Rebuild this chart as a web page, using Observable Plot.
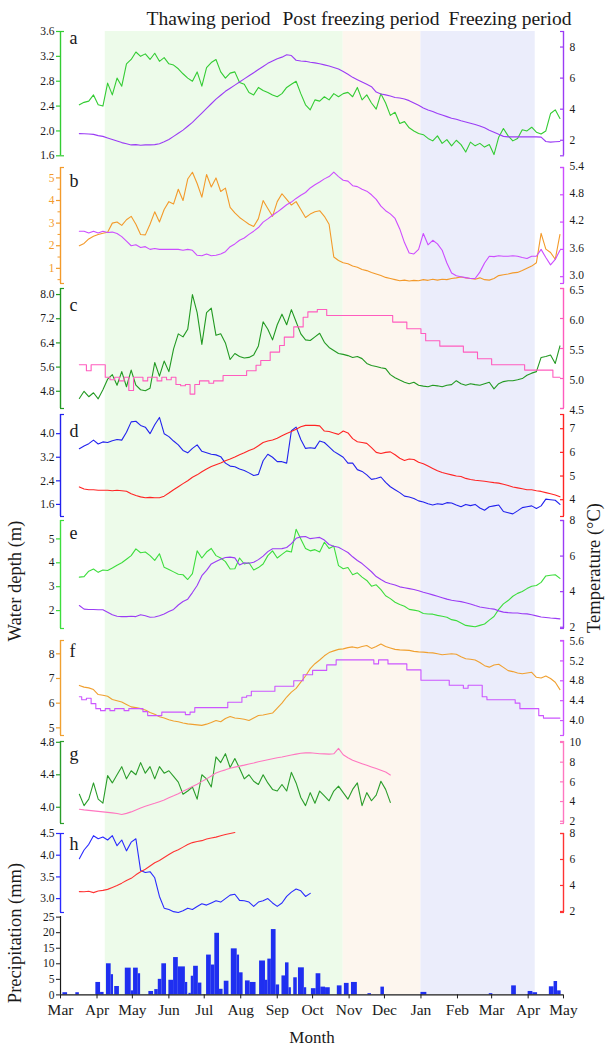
<!DOCTYPE html>
<html>
<head>
<meta charset="utf-8">
<script src="https://cdn.jsdelivr.net/npm/d3@7"></script>
<script src="https://cdn.jsdelivr.net/npm/@observablehq/plot@0.6"></script>
<style>
  body { margin: 0; background: #fff; }
  #fig { position: relative; width: 605px; height: 1048px; overflow: hidden;
         font-family: "Liberation Serif", "Times New Roman", serif; color: #1a1a1a; }
  #fig svg { position: absolute; left: 0; }
  .period { position: absolute; top: 8.5px; font-size: 19.5px; line-height: 1; white-space: nowrap; transform: translateX(-50%); }
  .ylab { position: absolute; font-size: 18.5px; line-height: 1; white-space: nowrap; transform: translate(-50%, -50%) rotate(-90deg); }
</style>
</head>
<body>
<div id="fig">
  <div class="period" style="left:208.5px">Thawing period</div>
  <div class="period" style="left:361px">Post freezing period</div>
  <div class="period" style="left:510px">Freezing period</div>
  <div class="ylab" style="left:15px; top:581px">Water depth (m)</div>
  <div class="ylab" style="left:594px; top:568px">Temperature (°C)</div>
  <div class="ylab" style="left:15px; top:933px">Precipitation (mm)</div>
</div>
<script>
// ---------- data ----------
// daily records sampled every 4 days from 17 March 2015
const seriesStart = "2015-03-17";
const stepDays = 4;

const aDepth = [2.42,2.46,2.48,2.58,2.42,2.40,2.77,2.58,2.85,2.72,
  3.08,3.15,3.27,3.20,3.24,3.15,3.25,3.12,3.18,3.08,
  3.06,3.00,2.92,2.85,2.80,2.95,2.72,3.02,3.10,3.15,
  2.95,2.85,2.93,2.95,2.78,2.75,2.62,2.58,2.70,2.65,
  2.62,2.58,2.55,2.60,2.70,2.75,2.80,2.60,2.42,2.34,
  2.50,2.48,2.55,2.50,2.60,2.55,2.60,2.62,2.55,2.70,
  2.50,2.58,2.45,2.35,2.60,2.45,2.25,2.30,2.12,2.15,
  2.05,2.00,1.96,1.94,1.88,1.84,1.92,1.80,1.86,1.76,
  1.85,1.78,1.66,1.82,1.76,1.80,1.74,1.78,1.62,1.90,
  2.04,1.92,1.84,1.88,2.02,2.00,2.06,1.98,1.95,2.00,
  2.28,2.34,2.20];
const aTemp = [2.43,2.42,2.40,2.38,2.30,2.25,2.15,2.05,1.95,1.85,
  1.78,1.70,1.72,1.68,1.70,1.70,1.72,1.78,1.90,2.05,
  2.25,2.45,2.65,2.90,3.15,3.45,3.75,4.05,4.35,4.65,
  4.90,5.15,5.35,5.55,5.75,5.95,6.15,6.35,6.55,6.75,
  6.95,7.10,7.25,7.35,7.50,7.45,7.15,7.10,7.08,7.02,
  6.98,6.92,6.85,6.78,6.68,6.58,6.42,6.25,6.05,5.90,
  5.75,5.60,5.45,5.10,4.98,4.92,4.85,4.75,4.72,4.66,
  4.55,4.40,4.25,4.08,3.95,3.85,3.72,3.62,3.52,3.42,
  3.35,3.25,3.18,3.10,3.02,2.92,2.80,2.65,2.52,2.38,
  2.25,2.22,2.22,2.22,2.22,2.22,2.22,2.22,2.20,1.92,
  1.88,1.90,1.92];

const bDepth = [2.00,2.10,2.30,2.42,2.50,2.55,2.60,3.00,3.05,2.90,
  3.15,3.30,2.95,2.50,2.48,2.95,3.50,3.05,3.60,3.95,
  3.85,4.50,4.00,4.95,5.25,4.75,4.15,5.15,4.60,5.00,
  4.40,4.55,3.70,3.45,3.25,3.10,2.95,2.85,3.20,4.00,
  3.65,3.30,3.95,4.30,4.05,3.80,3.95,3.60,3.25,3.40,
  3.50,3.55,3.30,2.95,1.50,1.35,1.25,1.20,1.10,1.05,
  0.95,0.90,0.82,0.75,0.68,0.60,0.55,0.50,0.45,0.48,
  0.44,0.47,0.45,0.50,0.47,0.52,0.48,0.52,0.50,0.55,
  0.58,0.62,0.58,0.55,0.52,0.58,0.50,0.48,0.55,0.68,
  0.72,0.75,0.80,0.82,0.90,1.00,1.10,1.25,2.55,1.85,
  1.70,1.40,2.50];
const bTemp = [4.00,4.00,3.96,4.00,3.96,4.00,3.97,3.98,3.95,3.88,
  3.78,3.68,3.70,3.64,3.66,3.60,3.62,3.60,3.60,3.60,
  3.60,3.60,3.58,3.60,3.58,3.47,3.46,3.50,3.46,3.47,
  3.50,3.55,3.66,3.72,3.80,3.85,3.93,4.00,4.08,4.20,
  4.27,4.35,4.42,4.50,4.58,4.64,4.72,4.79,4.85,4.95,
  5.02,5.08,5.15,5.20,5.30,5.20,5.12,5.10,5.00,4.98,
  4.92,4.88,4.80,4.70,4.55,4.45,4.38,4.28,4.05,3.75,
  3.52,3.50,3.60,3.95,3.70,3.80,3.72,3.58,3.30,3.08,
  3.02,3.00,2.98,2.96,2.96,3.10,3.30,3.45,3.44,3.46,
  3.45,3.45,3.46,3.45,3.42,3.40,3.45,3.45,3.60,3.42,
  3.26,3.38,3.58];

const cDepth = [4.56,4.80,4.62,4.75,4.55,4.85,5.20,5.35,5.00,5.45,
  4.95,5.50,5.00,4.85,4.82,4.90,5.75,5.30,5.80,5.45,
  6.20,6.70,6.60,6.85,8.00,7.40,6.35,7.40,7.55,6.65,
  6.70,6.40,5.85,6.05,5.95,5.90,5.92,6.00,6.30,7.10,
  6.85,6.50,7.00,7.35,7.00,7.50,7.10,6.70,6.50,6.48,
  6.60,6.72,6.42,6.25,6.15,6.05,6.02,5.98,5.92,5.95,
  5.88,5.72,5.65,5.62,5.58,5.55,5.35,5.25,5.17,5.10,
  5.05,5.10,5.00,4.97,4.95,5.00,4.98,4.95,5.00,5.02,
  5.15,5.05,5.00,5.05,5.02,5.00,5.05,5.10,4.88,5.05,
  5.12,5.15,5.15,5.18,5.22,5.33,5.40,5.45,5.92,5.95,
  6.00,5.72,6.30];
const cTemp = [5.23,5.23,5.13,5.23,5.23,5.23,5.02,4.98,5.02,4.96,
  5.02,4.80,5.02,5.02,4.96,5.02,5.02,4.96,5.02,4.98,
  5.02,4.90,4.88,4.90,4.74,4.90,4.96,4.96,4.92,4.96,
  4.96,5.05,5.05,5.05,5.05,5.05,5.13,5.13,5.22,5.30,
  5.30,5.44,5.44,5.55,5.69,5.69,5.86,5.86,6.02,6.11,
  6.11,6.15,6.15,6.05,6.05,6.05,6.05,6.05,6.05,6.05,
  6.05,6.05,6.05,6.05,6.05,6.05,6.05,5.94,5.94,5.94,
  5.83,5.83,5.83,5.75,5.63,5.63,5.63,5.54,5.54,5.54,
  5.54,5.54,5.44,5.44,5.44,5.33,5.33,5.33,5.23,5.23,
  5.23,5.23,5.23,5.23,5.23,5.14,5.14,5.14,5.14,5.14,
  5.14,5.02,5.02];

const dDepth = [3.49,3.58,3.66,3.78,3.65,3.72,3.70,3.76,3.80,3.78,
  4.05,4.40,4.42,4.28,4.22,4.00,4.30,4.55,4.00,3.90,
  3.75,3.62,3.43,3.35,3.50,3.62,3.40,3.35,3.30,3.28,
  3.22,3.00,2.90,2.88,2.80,2.75,2.67,2.58,2.62,3.08,
  3.30,3.20,3.05,3.05,3.00,4.10,4.22,3.80,3.50,3.52,
  3.50,3.75,3.70,3.55,3.40,3.30,3.20,3.00,3.00,2.78,
  2.72,2.60,2.45,2.48,2.53,2.35,2.20,2.10,2.00,1.88,
  1.85,1.80,1.72,1.68,1.62,1.58,1.62,1.60,1.66,1.65,
  1.58,1.52,1.60,1.56,1.60,1.48,1.40,1.52,1.55,1.58,
  1.36,1.32,1.28,1.38,1.49,1.52,1.55,1.46,1.55,1.78,
  1.76,1.74,1.60];
const dTemp = [4.54,4.45,4.42,4.42,4.40,4.40,4.40,4.38,4.40,4.38,
  4.36,4.25,4.18,4.12,4.08,4.10,4.08,4.08,4.15,4.28,
  4.42,4.55,4.68,4.80,4.95,5.05,5.18,5.30,5.40,5.48,
  5.55,5.65,5.72,5.80,5.90,5.98,6.08,6.15,6.28,6.42,
  6.48,6.52,6.60,6.70,6.80,6.88,6.98,7.08,7.14,7.14,
  7.14,7.12,6.90,6.88,6.82,6.76,6.90,6.82,6.58,6.45,
  6.42,6.38,6.20,6.00,5.95,6.00,6.02,5.90,5.75,5.66,
  5.72,5.70,5.58,5.52,5.42,5.32,5.22,5.15,5.10,5.05,
  5.00,4.98,4.90,4.85,4.82,4.80,4.78,4.75,4.72,4.70,
  4.65,4.60,4.54,4.50,4.46,4.42,4.42,4.38,4.35,4.30,
  4.25,4.20,4.12];

const eDepth = [3.40,3.42,3.65,3.74,3.60,3.70,3.68,3.78,3.90,4.00,
  4.15,4.30,4.58,4.42,4.45,4.30,4.10,4.38,3.81,3.72,
  3.62,3.52,3.50,3.30,3.55,4.50,4.20,4.45,4.60,4.30,
  4.20,4.05,3.74,3.75,4.20,3.95,4.00,3.70,3.80,3.95,
  4.30,4.50,4.20,4.35,4.50,4.45,5.40,5.00,4.60,4.50,
  4.55,4.45,4.86,4.60,4.70,3.88,3.75,3.80,3.50,3.58,
  3.40,3.26,3.02,3.08,2.88,2.62,2.50,2.35,2.25,2.18,
  2.05,2.02,1.98,1.88,1.86,1.85,1.80,1.76,1.72,1.62,
  1.58,1.48,1.38,1.35,1.32,1.38,1.44,1.60,1.75,2.05,
  2.28,2.42,2.60,2.72,2.80,2.92,3.02,3.05,3.18,3.45,
  3.48,3.50,3.35];
const eTemp = [3.22,3.02,3.00,3.00,2.98,2.98,2.84,2.70,2.62,2.60,
  2.60,2.62,2.60,2.70,2.65,2.56,2.58,2.65,2.75,2.88,
  3.00,3.25,3.45,3.58,3.95,4.35,4.90,5.20,5.56,5.70,
  5.82,5.92,5.94,5.90,5.50,5.62,5.60,5.65,5.80,6.00,
  6.25,6.41,6.41,6.42,6.48,6.70,7.00,7.08,7.10,6.98,
  7.02,7.05,6.90,6.65,6.55,6.50,6.35,6.20,5.96,5.75,
  5.58,5.35,5.12,4.85,4.68,4.53,4.45,4.38,4.27,4.22,
  4.17,4.12,4.05,3.97,3.90,3.82,3.74,3.66,3.58,3.52,
  3.48,3.44,3.38,3.31,3.22,3.14,3.10,3.05,3.02,2.92,
  2.85,2.82,2.80,2.80,2.76,2.75,2.70,2.64,2.58,2.55,
  2.52,2.50,2.47];

const fDepth = [6.72,6.65,6.62,6.55,6.35,6.32,6.28,6.15,6.10,6.05,
  5.95,5.85,5.82,5.78,5.72,5.62,5.55,5.45,5.40,5.33,
  5.28,5.25,5.20,5.16,5.14,5.12,5.10,5.15,5.22,5.30,
  5.25,5.38,5.46,5.40,5.38,5.35,5.30,5.40,5.50,5.52,
  5.56,5.60,5.80,6.00,6.25,6.45,6.60,6.85,7.10,7.40,
  7.60,7.75,7.92,8.05,8.12,8.18,8.20,8.25,8.28,8.24,
  8.30,8.34,8.22,8.30,8.40,8.30,8.24,8.18,8.16,8.15,
  8.14,8.10,8.08,8.07,8.05,8.04,8.00,7.96,7.98,8.00,
  7.98,7.88,7.80,7.78,7.75,7.65,7.52,7.46,7.55,7.58,
  7.45,7.32,7.28,7.22,7.19,7.22,7.25,7.05,7.02,7.10,
  7.00,6.85,6.55];
const fTemp = [4.48,4.42,4.45,4.34,4.24,4.20,4.24,4.20,4.24,4.24,
  4.20,4.24,4.24,4.24,4.18,4.10,4.10,4.10,4.17,4.17,
  4.17,4.17,4.17,4.12,4.17,4.26,4.26,4.26,4.26,4.26,
  4.26,4.26,4.37,4.37,4.37,4.47,4.50,4.59,4.59,4.59,
  4.59,4.59,4.69,4.69,4.69,4.69,4.80,4.80,4.92,4.92,
  5.01,5.01,5.01,5.12,5.12,5.22,5.22,5.22,5.22,5.22,
  5.22,5.22,5.22,5.14,5.22,5.22,5.14,5.14,5.14,5.14,
  5.02,5.02,5.02,4.81,4.81,4.81,4.81,4.81,4.81,4.71,
  4.71,4.71,4.65,4.71,4.71,4.71,4.48,4.42,4.42,4.42,
  4.42,4.42,4.42,4.35,4.24,4.24,4.24,4.24,4.10,4.05,
  4.05,4.05,4.05];

const gDepth = [4.16,4.02,4.10,4.30,4.10,4.05,4.39,4.30,4.40,4.50,
  4.35,4.45,4.40,4.55,4.42,4.50,4.35,4.50,4.42,4.45,
  4.38,4.31,4.16,4.20,4.25,4.10,4.40,4.35,4.25,4.62,
  4.55,4.66,4.49,4.60,4.48,4.35,4.40,4.32,4.28,4.40,
  4.30,4.22,4.20,4.28,4.20,4.43,4.30,4.12,4.02,4.18,
  4.05,4.20,4.14,4.08,4.20,4.26,4.18,4.10,4.22,4.30,
  4.02,4.18,4.08,4.15,4.32,4.22,4.06];
const gTemp = [3.22,3.15,3.10,3.05,3.00,2.95,2.90,2.85,2.78,2.68,
  2.80,2.95,3.15,3.35,3.52,3.68,3.82,3.98,4.15,4.38,
  4.58,4.80,5.05,5.28,5.52,5.75,6.05,6.30,6.60,6.90,
  7.08,7.22,7.38,7.50,7.60,7.70,7.82,7.92,8.05,8.15,
  8.25,8.35,8.45,8.52,8.62,8.72,8.82,8.90,8.94,8.95,
  8.90,8.85,8.84,8.82,8.85,9.40,8.75,8.45,8.20,8.02,
  7.85,7.68,7.52,7.35,7.18,7.00,6.70];

const hDepth = [3.92,4.12,4.25,4.45,4.38,4.42,4.35,4.45,4.22,4.35,
  4.10,4.30,4.38,3.65,3.60,3.62,3.48,3.05,2.78,2.75,
  2.70,2.68,2.72,2.78,2.75,2.82,2.88,2.85,2.90,2.95,
  2.92,3.00,3.08,3.10,2.96,2.95,2.92,2.82,2.92,2.95,
  3.00,2.90,2.82,2.90,3.05,3.15,3.22,3.18,3.05,3.12];
const hTemp = [3.53,3.52,3.55,3.45,3.58,3.62,3.70,3.85,4.00,4.18,
  4.38,4.55,4.82,5.05,5.25,5.50,5.75,5.92,6.15,6.38,
  6.60,6.75,6.95,7.15,7.30,7.38,7.45,7.58,7.65,7.72,
  7.82,7.92,8.00,8.08];

// rain events: first day, number of days, daily amount (mm)
const rainStart = ["2015-03-03","2015-03-14","2015-03-31","2015-04-04","2015-04-09","2015-04-13","2015-04-16",
  "2015-04-25","2015-04-30","2015-05-02","2015-05-06","2015-05-15","2015-05-20","2015-05-23","2015-05-26",
  "2015-06-01","2015-06-05","2015-06-09","2015-06-15","2015-06-18","2015-06-20","2015-06-22","2015-06-26",
  "2015-07-03","2015-07-07","2015-07-10","2015-07-14","2015-07-18","2015-07-24","2015-07-29","2015-07-31",
  "2015-08-05","2015-08-09","2015-08-17","2015-08-22","2015-08-24","2015-08-27","2015-08-31",
  "2015-09-05","2015-09-08","2015-09-11","2015-09-15","2015-09-19","2015-09-24","2015-09-30",
  "2015-10-04","2015-10-08","2015-10-12","2015-10-22","2015-10-28","2015-11-03","2015-11-17","2015-11-28",
  "2016-01-01","2016-02-28","2016-03-18","2016-04-01","2016-04-05","2016-04-19","2016-04-23","2016-04-26"];
const rainDays = [4,3,4,3,4,2,4,
  5,2,4,2,4,3,3,4,
  4,4,6,2,2,2,4,3,
  4,3,4,3,4,5,2,3,
  4,5,5,2,3,4,3,
  3,3,2,3,5,2,4,
  4,4,4,4,4,5,3,3,
  5,3,4,4,4,4,3,3];
const rainMm = [0.7,0.7,4.0,0.8,10,6.5,2.7,
  8.6,1.3,8.6,6.8,1.1,1.7,5.0,10,
  4.7,12,9,4,0.5,6,9.2,3.8,
  12.8,9.6,19.8,1.8,4.4,14.8,12.8,7.1,
  4.5,4.0,10.9,4.7,11.5,21,3.2,
  6.1,10.3,2.3,5.5,8.7,2.3,2.0,
  6.8,2.5,2.3,2.9,3.7,4.0,0.4,2.5,
  0.8,0.4,2.9,1.1,0.7,2.6,4.3,1.3];

const periodName = ["Thawing period", "Post freezing period", "Freezing period"];
const periodStart = ["2015-04-08", "2015-10-27", "2016-01-01"];
const periodEnd = ["2015-10-27", "2016-01-01", "2016-04-07"];

const monthTicks = ["2015-03-01","2015-04-01","2015-05-01","2015-06-01","2015-07-01","2015-08-01",
  "2015-09-01","2015-10-01","2015-11-01","2015-12-01","2016-01-01","2016-02-01","2016-03-01",
  "2016-04-01","2016-05-01"];

// ---------- layout and styling ----------
const fig = document.getElementById("fig");
const W = 605, ML = 60, MR = 42, PAD = 14;
const FONT = '"Liberation Serif", "Times New Roman", serif';
const TEXT = "#1a1a1a";
const xDomain = [new Date("2015-03-01"), new Date("2016-05-01")];
const periodFill = ["#edfbea", "#fdf6ee", "#ebedfb"];

const panels = [
  {letter: "a", top: 30.7, bottom: 155, letterDy: 12.5,
   left: {values: aDepth, domain: [1.6, 3.6], ticks: [1.6, 2.0, 2.4, 2.8, 3.2, 3.6], fmt: ".1f", color: "#33cc33"},
   right: {values: aTemp, domain: [1, 9], ticks: [2, 4, 6, 8], fmt: "d", color: "#9b3cf5"}},
  {letter: "b", top: 167, bottom: 283, letterDy: 19.5,
   left: {values: bDepth, domain: [0.33, 5.46], ticks: [1, 2, 3, 4, 5], minor: [0.5, 1.5, 2.5, 3.5, 4.5], fmt: "d", color: "#f39a2b", labelColor: "#f39a2b"},
   right: {values: bTemp, domain: [2.85, 5.4], ticks: [3.0, 3.6, 4.2, 4.8, 5.4], fmt: ".1f", color: "#cc4dff", labelDy: -1.5}},
  {letter: "c", top: 288, bottom: 408, letterDy: 22.5,
   left: {values: cDepth, domain: [4.23, 8.2], ticks: [4.8, 5.6, 6.4, 7.2, 8.0], fmt: ".1f", color: "#229922"},
   right: {values: cTemp, domain: [4.5, 6.5], ticks: [4.5, 5.0, 5.5, 6.0, 6.5], fmt: ".1f", color: "#ff5cbe", curve: "step", labelDy: 1.5}},
  {letter: "d", top: 414, bottom: 516, letterDy: 22.5,
   left: {values: dDepth, domain: [1.19, 4.65], ticks: [1.6, 2.4, 3.2, 4.0], fmt: ".1f", color: "#2222ee"},
   right: {values: dTemp, domain: [3.29, 7.6], ticks: [4, 5, 6, 7], fmt: "d", color: "#ff2424"}},
  {letter: "e", top: 520, bottom: 628, letterDy: 18,
   left: {values: eDepth, domain: [1.25, 5.77], ticks: [2, 3, 4, 5], fmt: "d", color: "#3ddd3d"},
   right: {values: eTemp, domain: [1.93, 8.0], ticks: [2, 4, 6, 8], fmt: "d", color: "#9b3cf5"}},
  {letter: "f", top: 640, bottom: 735, letterDy: 16.5,
   left: {values: fDepth, domain: [4.69, 8.54], ticks: [5, 6, 7, 8], fmt: "d", color: "#f0a030"},
   right: {values: fTemp, domain: [3.7, 5.61], ticks: [4.0, 4.4, 4.8, 5.2, 5.6], fmt: ".1f", color: "#cc55ff", curve: "step"}},
  {letter: "g", top: 741, bottom: 823, letterDy: 18,
   left: {values: gDepth, domain: [3.8, 4.81], ticks: [4.0, 4.4, 4.8], fmt: ".1f", color: "#2a9d2a"},
   right: {values: gTemp, domain: [1.77, 10.1], ticks: [2, 4, 6, 8, 10], fmt: "d", color: "#ff77c0"}},
  {letter: "h", top: 833, bottom: 912, letterDy: 16.5,
   left: {values: hDepth, domain: [2.68, 4.5], ticks: [3.0, 3.5, 4.0, 4.5], fmt: ".1f", color: "#2a2aff"},
   right: {values: hTemp, domain: [1.92, 8.0], ticks: [2, 4, 6, 8], fmt: "d", color: "#ff3333"}}
];
const precip = {top: 915.6, bottom: 994, domain: [0, 25.2], ticks: [0, 5, 10, 15, 20, 25], color: "#1f2ff0"};
const TICK_FONT = 11.5;

function rows(values) {
  const t0 = new Date(seriesStart);
  return values.map((v, i) => ({date: d3.utcDay.offset(t0, stepDays * i), v}));
}

function place(svg, top) {
  svg.style.top = top + "px";
  fig.appendChild(svg);
}

function baseOptions(top, bottom, extraBottom = 0) {
  return {
    width: W,
    height: bottom - top + PAD * 2 + extraBottom,
    marginTop: PAD, marginBottom: PAD + extraBottom, marginLeft: ML, marginRight: MR,
    x: {type: "utc", domain: xDomain, axis: null},
    style: {background: "transparent", overflow: "visible", fontFamily: FONT, fontSize: TICK_FONT + "px", color: TEXT}
  };
}

// coloured axis: line, outward/inward ticks, end caps and dark labels
function axisMarks(side, s) {
  const left = side === "left";
  const dir = left ? 1 : -1;
  const marks = [
    Plot.ruleX([left ? xDomain[0] : xDomain[1]], {stroke: s.color, strokeWidth: 1.4}),
    Plot.axisY({anchor: side, ticks: s.ticks, tickSize: 4 * dir, tickFormat: () => "", stroke: s.color, strokeWidth: 1.2, label: null}),
    Plot.axisY({anchor: side, ticks: s.domain, tickSize: -4, tickFormat: () => "", stroke: s.color, strokeWidth: 1.2, label: null}),
    Plot.axisY({anchor: side, ticks: s.ticks, tickSize: 0, tickPadding: 6, tickFormat: s.fmt, dy: s.labelDy || 0,
      fill: s.labelColor || TEXT, fontSize: TICK_FONT, fontFamily: FONT, label: null})
  ];
  if (s.minor) marks.push(Plot.axisY({anchor: side, ticks: s.minor, tickSize: 2.5 * dir, tickFormat: () => "", stroke: s.color, label: null}));
  return marks;
}

function layer(p, side) {
  const s = p[side];
  const marks = [
    ...axisMarks(side, s),
    Plot.line(rows(s.values), {x: "date", y: "v", stroke: s.color, strokeWidth: 1.1, curve: s.curve || "linear"})
  ];
  if (side === "left") {
    marks.push(Plot.text([p.letter], {text: d => d, frameAnchor: "top-left", dx: 9, dy: p.letterDy,
      lineAnchor: "bottom", textAnchor: "start", fontSize: 18, fontFamily: FONT, fill: TEXT}));
  }
  const svg = Plot.plot({...baseOptions(p.top, p.bottom), y: {domain: s.domain}, marks});
  place(svg, p.top - PAD);
}

// period shading behind all panels
const periods = periodName.map((name, i) => ({name, start: new Date(periodStart[i]), end: new Date(periodEnd[i]), i}));
place(Plot.plot({
  ...baseOptions(30.7, 994),
  marks: [Plot.rect(periods, {x1: "start", x2: "end", fill: d => periodFill[d.i]})]
}), 30.7 - PAD);

for (const p of panels) {
  layer(p, "left");
  layer(p, "right");
}

// precipitation bars with the shared month axis
const rain = rainStart.map((s, i) => {
  const start = new Date(s);
  return {start, end: d3.utcDay.offset(start, rainDays[i]), mm: rainMm[i], zero: 0};
});
place(Plot.plot({
  ...baseOptions(precip.top, precip.bottom, 54),
  y: {domain: precip.domain},
  marks: [
    Plot.rect(rain, {x1: "start", x2: "end", y1: "zero", y2: "mm", fill: precip.color}),
    Plot.ruleX([xDomain[0]], {stroke: TEXT, strokeWidth: 1.2}),
    Plot.ruleY([0], {stroke: TEXT, strokeWidth: 1.2}),
    Plot.axisY({anchor: "left", ticks: precip.ticks, tickSize: 4, tickPadding: 2, tickFormat: "d",
      fontSize: TICK_FONT, fontFamily: FONT, label: null}),
    Plot.axisX({anchor: "bottom", ticks: monthTicks.map(d => new Date(d)), tickSize: 4, tickPadding: 5,
      tickFormat: d3.utcFormat("%b"), fontSize: 15.5, fontFamily: FONT, label: null}),
    Plot.text(["Month"], {text: d => d, frameAnchor: "bottom", dy: 48, lineAnchor: "bottom", fontSize: 17, fontFamily: FONT, fill: TEXT})
  ]
}), precip.top - PAD);
</script>
</body>
</html>
